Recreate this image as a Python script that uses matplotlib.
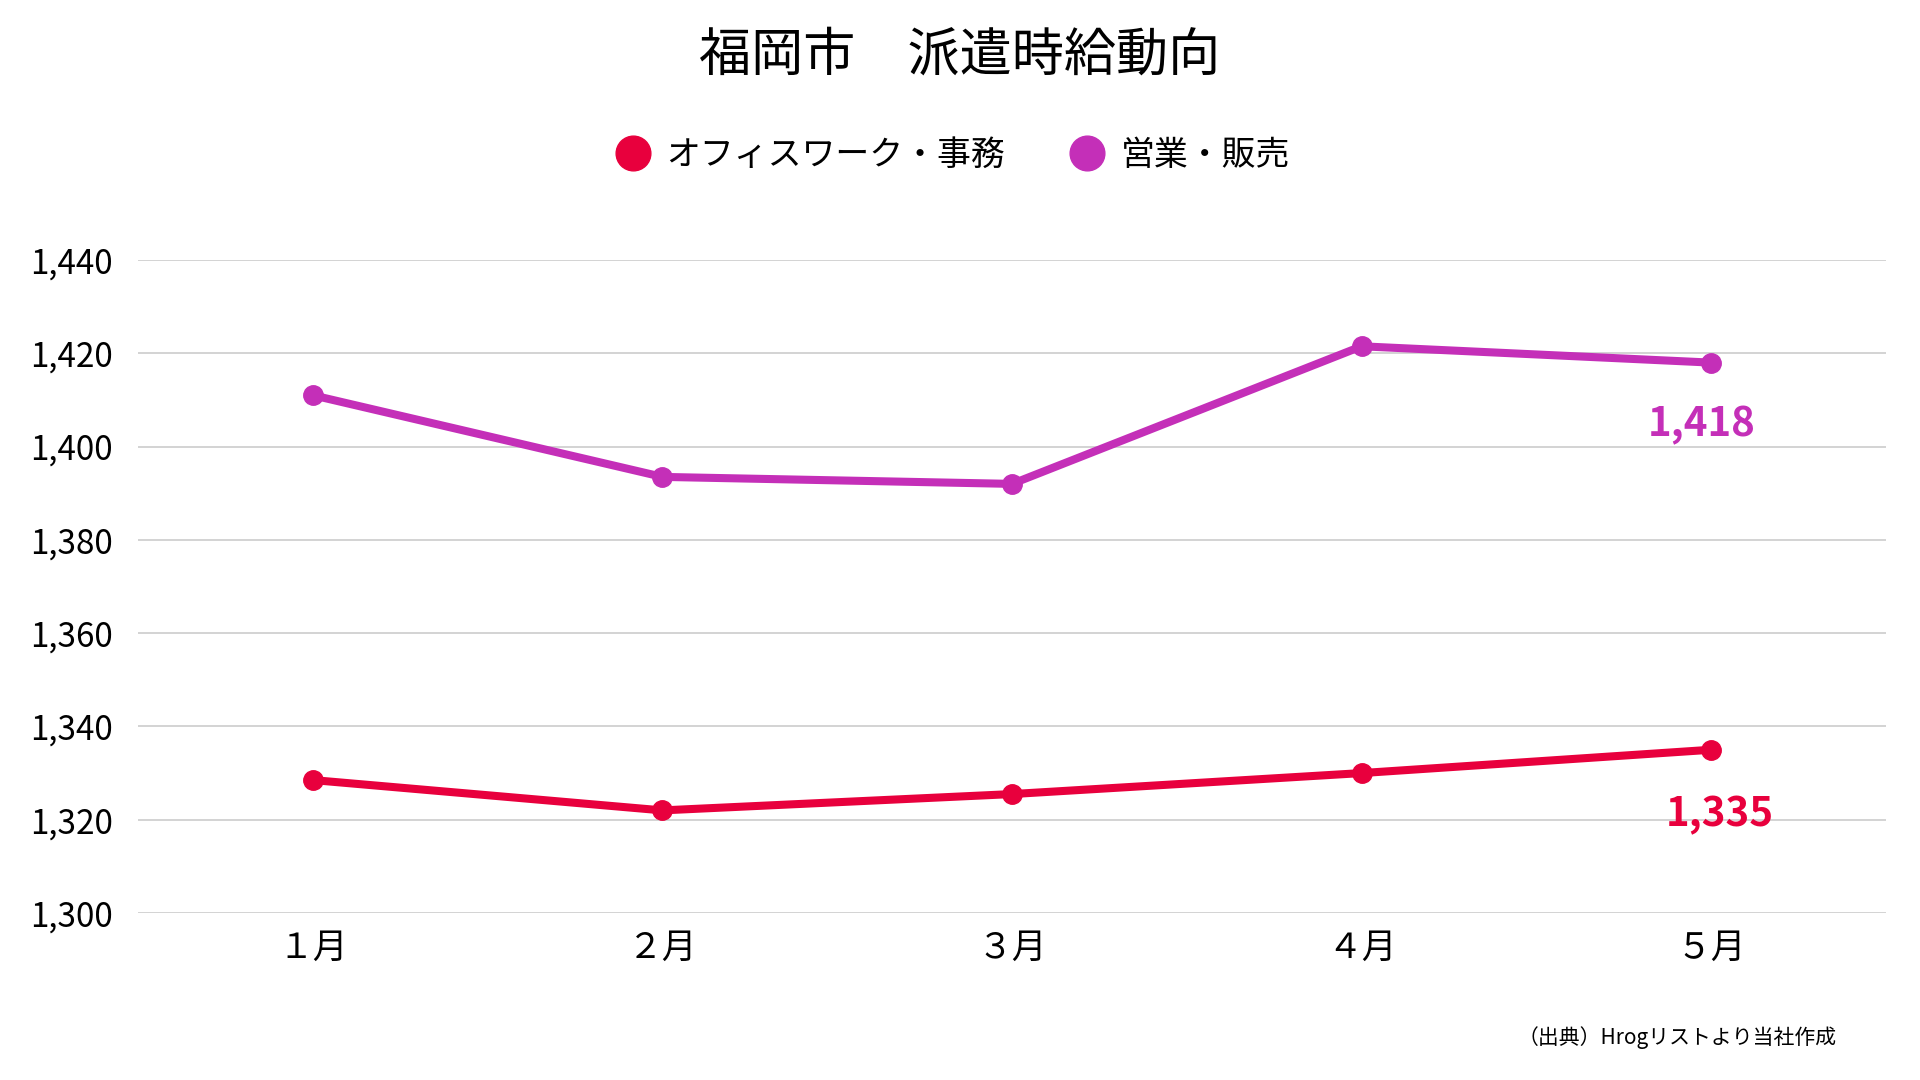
import matplotlib
matplotlib.use("Agg")
import matplotlib.pyplot as plt
from matplotlib.lines import Line2D

plt.rcParams['font.family'] = ['Noto Sans CJK JP', 'DejaVu Sans']

months = ["１月", "２月", "３月", "４月", "５月"]
office = [1328.5, 1322, 1325.5, 1330, 1335]
sales = [1411, 1393.5, 1392, 1421.5, 1418]
series_names = ["オフィスワーク・事務", "営業・販売"]
yticks = [1300, 1320, 1340, 1360, 1380, 1400, 1420, 1440]
title = "福岡市　派遣時給動向"
source = "（出典）Hrogリストより当社作成"

RED = "#E8003D"
PURPLE = "#C42FB8"

fig = plt.figure(figsize=(19.2, 10.8), dpi=100)
ax = fig.add_axes([138/1920, 1 - 913/1080, (1886-138)/1920, (913-260)/1080])

x = list(range(len(months)))
ax.plot(x, office, color=RED, lw=5.8, marker='o', ms=14, solid_capstyle='round', zorder=3)
ax.plot(x, sales, color=PURPLE, lw=5.8, marker='o', ms=14, solid_capstyle='round', zorder=3)

ax.set_xlim(-0.5, 4.5)
ax.set_ylim(1300, 1440)
ax.set_yticks(yticks)
ax.set_yticklabels([f"{v:,}" for v in yticks], fontsize=24)
ax.set_xticks(x)
ax.set_xticklabels(months, fontsize=25)
ax.tick_params(axis='y', length=0, pad=18)
ax.tick_params(axis='x', length=0, pad=13)
ax.grid(axis='y', color='#d0d0d0', lw=1.3)
ax.set_axisbelow(True)
for s in ax.spines.values():
    s.set_visible(False)

ax.annotate(f"{sales[-1]:,.0f}", (x[-1], sales[-1]), xytext=(-7, -45), textcoords='offset points',
            ha='center', va='center', fontsize=29, fontweight='bold', color=PURPLE)
ax.annotate(f"{office[-1]:,.0f}", (x[-1], office[-1]), xytext=(6, -47), textcoords='offset points',
            ha='center', va='center', fontsize=29, fontweight='bold', color=RED)

fig.text(0.5, 1 - 56/1080, title, ha='center', va='center', fontsize=37.5)

handles = [Line2D([], [], color=RED, marker='o', ls='none', ms=25),
           Line2D([], [], color=PURPLE, marker='o', ls='none', ms=25)]
fig.legend(handles, series_names, loc='center', bbox_to_anchor=(0.5 - 9/1920, 1 - 155/1080),
           ncol=2, frameon=False, fontsize=24.4, handletextpad=0.4, columnspacing=1.8,
           handlelength=1.2)

fig.text(1837/1920, 1 - 1038/1080, source, ha='right', va='center', fontsize=15)

fig.savefig("out.png", dpi=100, facecolor='white')
